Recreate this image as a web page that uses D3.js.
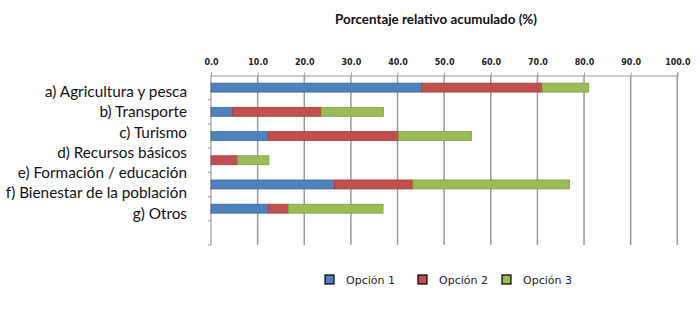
<!DOCTYPE html>
<html>
<head>
<meta charset="utf-8">
<script src="https://cdn.jsdelivr.net/npm/d3@7"></script>
<style>
  body { margin: 0; background: #fff; }
  svg { display: block; }
</style>
</head>
<body>
<svg id="chart" width="700" height="311"></svg>
<script>
// labels as printed on the left
let categories = [
  'a) Agricultura y pesca',
  'b) Transporte',
  'c) Turismo',
  'd) Recursos básicos',
  'e) Formación / educación',
  'f) Bienestar de la población',
  'g) Otros'
];
// one value per bar row (rows go top to bottom, last row is empty)
let rows = [0, 1, 2, 3, 4, 5, 6];
let opcion1 = [45.2, 4.6, 12.3, 0, 26.5, 12.3, 0];
let opcion2 = [25.8, 19.0, 27.9, 5.7, 16.8, 4.3, 0];
let opcion3 = [10.0, 13.4, 15.7, 6.7, 33.6, 20.3, 0];
let seriesNames = ['Opción 1', 'Opción 2', 'Opción 3'];
let colors = ['#4F81BD', '#C0504D', '#9BBB59'];
let strokes = ['#3A6BA6', '#A53C39', '#82A040'];
let ticks = [0, 10, 20, 30, 40, 50, 60, 70, 80, 90, 100];

function renderChart(svg) {
  svg = d3.select(svg);

  let left = 211, right = 677.3, top = 75.5, bottom = 245;

  let x = d3.scaleLinear().domain([0, 100]).range([left, right]);
  let y = d3.scaleBand().domain(rows).range([top, bottom]).paddingInner(0.63).paddingOuter(0.315);
  let yLine = d3.scaleBand().domain(rows).range([top, bottom]);
  // the category text sits on its own tighter spacing
  let yLabel = d3.scalePoint().domain(categories).range([91.7, 213.3]);

  let table = rows.map(i => ({ row: i, s0: opcion1[i], s1: opcion2[i], s2: opcion3[i] }));
  let stack = d3.stack().keys(['s0', 's1', 's2'])(table);

  // title
  svg.append('text')
    .attr('x', 436).attr('y', 24)
    .attr('text-anchor', 'middle')
    .style('font-family', 'Lato, sans-serif')
    .style('font-weight', 'bold')
    .style('font-size', '13.4px')
    .attr('fill', '#111')
    .text('Porcentaje relativo acumulado (%)');

  // grid
  svg.append('g')
    .selectAll('line')
    .data(ticks.slice(1))
    .enter()
    .append('line')
    .attr('x1', d => x(d)).attr('x2', d => x(d))
    .attr('y1', top).attr('y2', bottom)
    .attr('stroke', '#9a9a9a')
    .attr('stroke-width', 1.5);

  // top axis
  let xAxis = svg.append('g')
    .attr('transform', 'translate(0,' + top + ')')
    .call(d3.axisTop(x).tickValues(ticks).tickSize(3).tickPadding(8).tickFormat(d3.format('.1f')));
  xAxis.select('.domain').attr('stroke', '#9a9a9a').attr('stroke-width', 1.2);
  xAxis.selectAll('.tick line').attr('stroke', '#9a9a9a');
  xAxis.selectAll('.tick text')
    .style('font-family', 'DejaVu Sans, Verdana, sans-serif')
    .style('font-weight', 'bold')
    .style('font-size', '8px')
    .attr('fill', '#222');

  // left axis with row ticks
  svg.append('line')
    .attr('x1', left).attr('x2', left)
    .attr('y1', top).attr('y2', bottom)
    .attr('stroke', '#9a9a9a').attr('stroke-width', 1.2);
  svg.append('g')
    .selectAll('line')
    .data(rows)
    .enter()
    .append('line')
    .attr('x1', left - 3).attr('x2', left)
    .attr('y1', d => yLine(d) + yLine.bandwidth())
    .attr('y2', d => yLine(d) + yLine.bandwidth())
    .attr('stroke', '#9a9a9a');

  // bars
  svg.append('g')
    .selectAll('g')
    .data(stack)
    .enter()
    .append('g')
    .attr('fill', (d, i) => colors[i])
    .attr('stroke', (d, i) => strokes[i])
    .selectAll('rect')
    .data(d => d.filter(p => p[1] > p[0]))
    .enter()
    .append('rect')
    .attr('x', d => x(d[0]))
    .attr('y', d => y(d.data.row))
    .attr('width', d => x(d[1]) - x(d[0]))
    .attr('height', y.bandwidth())
    .attr('stroke-width', 0.8);

  // category labels
  svg.append('g')
    .selectAll('text')
    .data(categories)
    .enter()
    .append('text')
    .attr('x', 187)
    .attr('y', d => yLabel(d))
    .attr('dy', '0.35em')
    .attr('text-anchor', 'end')
    .style('font-family', 'Lato, sans-serif')
    .style('font-size', '15.3px')
    .attr('fill', '#111')
    .text(d => d);

  // legend
  let legendX = [325, 418, 502];
  let lg = svg.append('g')
    .selectAll('g')
    .data(seriesNames)
    .enter()
    .append('g')
    .attr('transform', (d, i) => 'translate(' + legendX[i] + ',275)');
  lg.append('rect')
    .attr('width', 9).attr('height', 9)
    .attr('fill', (d, i) => colors[i])
    .attr('stroke', '#000').attr('stroke-width', 1.2);
  lg.append('text')
    .attr('x', 21).attr('y', 5)
    .attr('dy', '0.35em')
    .style('font-family', 'DejaVu Sans, Verdana, sans-serif')
    .style('font-size', '11px')
    .attr('fill', '#222')
    .text(d => d);
}

renderChart(document.getElementById('chart'));
</script>
</body>
</html>
